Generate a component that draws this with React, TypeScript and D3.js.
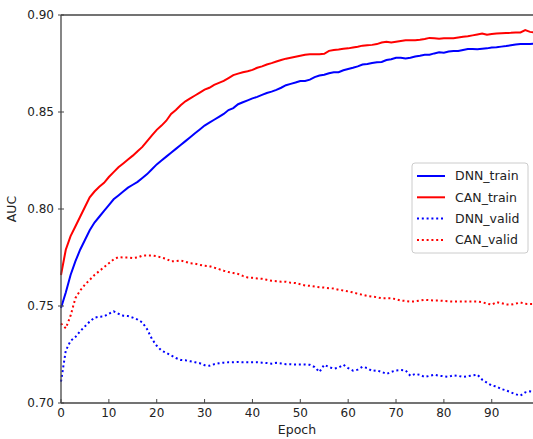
import React from "react";
import * as d3 from "d3";

// AUC per epoch
const dnnTrain = [
  0.749, 0.757, 0.766, 0.773, 0.779, 0.784, 0.789, 0.793, 0.796, 0.799,
  0.802, 0.805, 0.807, 0.809, 0.811, 0.8125, 0.814, 0.816, 0.818, 0.8205,
  0.823, 0.825, 0.827, 0.829, 0.831, 0.833, 0.835, 0.837, 0.839, 0.841,
  0.843, 0.8445, 0.846, 0.8475, 0.849, 0.851, 0.852, 0.854, 0.855, 0.856,
  0.857, 0.8578, 0.8588, 0.8598, 0.8605, 0.8614, 0.8625, 0.8638, 0.8645, 0.8652,
  0.866, 0.866, 0.8667, 0.868, 0.8688, 0.8692, 0.87, 0.8705, 0.8705, 0.8715,
  0.8722, 0.8728, 0.8735, 0.8745, 0.8748, 0.8752, 0.8756, 0.8758, 0.8768, 0.8772,
  0.878, 0.878, 0.8776, 0.878, 0.8786, 0.879, 0.8795, 0.8795, 0.8802, 0.8808,
  0.8806, 0.8812, 0.8815, 0.8814, 0.882, 0.8825, 0.8825, 0.8824, 0.8826, 0.8828,
  0.8832, 0.8834, 0.8837, 0.884, 0.8844, 0.8848, 0.885, 0.8851, 0.8851, 0.8852,
];

const canTrain = [
  0.766, 0.779, 0.786, 0.791, 0.796, 0.801, 0.806, 0.809, 0.8115, 0.8135,
  0.8165, 0.819, 0.8215, 0.8235, 0.8255, 0.8275, 0.8298, 0.832, 0.835, 0.838,
  0.8408, 0.843, 0.8455, 0.849, 0.851, 0.8535, 0.8555, 0.857, 0.8585, 0.86,
  0.8615, 0.8625, 0.864, 0.865, 0.866, 0.8675, 0.869, 0.8698, 0.8705, 0.871,
  0.8717, 0.8728, 0.8735, 0.8745, 0.8752, 0.876, 0.8768, 0.8775, 0.878, 0.8785,
  0.879, 0.8795, 0.8798, 0.8798, 0.8798, 0.88, 0.8815, 0.882, 0.8822, 0.8826,
  0.8828, 0.8832, 0.8836, 0.8842, 0.8844, 0.8846, 0.885, 0.8858, 0.8862, 0.8858,
  0.8862, 0.8866, 0.887, 0.887, 0.887, 0.8872, 0.8876, 0.8882, 0.888, 0.8878,
  0.888, 0.888, 0.888, 0.8884, 0.8888, 0.889, 0.8895, 0.89, 0.8905, 0.8898,
  0.8902, 0.8905, 0.8906, 0.8907, 0.8908, 0.891, 0.891, 0.8922, 0.8913, 0.891,
];

const dnnValid = [
  0.711, 0.727, 0.732, 0.734, 0.737, 0.7395, 0.742, 0.744, 0.7445, 0.7446,
  0.746, 0.7472, 0.746, 0.745, 0.7448, 0.744, 0.743, 0.7415, 0.738, 0.733,
  0.7295, 0.727, 0.7258, 0.7245, 0.7232, 0.7222, 0.722, 0.7215, 0.721, 0.7205,
  0.7195, 0.7192, 0.72, 0.7205, 0.7208, 0.721, 0.721, 0.7211, 0.721, 0.721,
  0.721, 0.721, 0.7208, 0.7206, 0.7203, 0.7207, 0.7204, 0.72, 0.72, 0.7198,
  0.7198, 0.7198, 0.7197, 0.7185, 0.716, 0.7197, 0.7185, 0.7177, 0.7183, 0.7197,
  0.718, 0.7167, 0.7172, 0.7187, 0.718, 0.7165, 0.7168, 0.716, 0.715, 0.716,
  0.7168, 0.717, 0.7168, 0.714, 0.715, 0.7145, 0.7134, 0.714, 0.7146, 0.714,
  0.7138, 0.7135, 0.7143, 0.714, 0.7134, 0.7138, 0.7142, 0.7146, 0.712, 0.7105,
  0.709, 0.7085, 0.7072, 0.7065, 0.7055, 0.7045, 0.7038, 0.7055, 0.706, 0.705,
];

const canValid = [
  0.741, 0.7385, 0.745, 0.754, 0.758, 0.761, 0.7635, 0.766, 0.768, 0.77,
  0.772, 0.774, 0.7752, 0.775, 0.775, 0.7747, 0.775, 0.776, 0.776, 0.776,
  0.7757, 0.775, 0.7743, 0.773, 0.7732, 0.7735, 0.7728, 0.772, 0.7718, 0.7712,
  0.7707, 0.7705, 0.7698, 0.769, 0.7682, 0.7675, 0.767, 0.7665, 0.7655, 0.7647,
  0.7645, 0.7642, 0.764, 0.7635, 0.763, 0.7628, 0.7625, 0.7625, 0.762, 0.7618,
  0.7612, 0.7606, 0.7604, 0.76, 0.7597, 0.7595, 0.7592, 0.759, 0.7584, 0.758,
  0.7575, 0.757, 0.7563, 0.7558, 0.7552, 0.7549, 0.7545, 0.754, 0.754, 0.754,
  0.7535, 0.7528, 0.7526, 0.7523, 0.7524, 0.7528, 0.7532, 0.753, 0.7528, 0.7528,
  0.7526, 0.7524, 0.7523, 0.7523, 0.7523, 0.7523, 0.7523, 0.7523, 0.752, 0.7512,
  0.7507, 0.752, 0.7515, 0.7508, 0.7507, 0.7512, 0.7518, 0.7511, 0.751, 0.751,
];

const xTicks = [0, 10, 20, 30, 40, 50, 60, 70, 80, 90];
const yTicks = [0.7, 0.75, 0.8, 0.85, 0.9];

const series = [
  { name: "DNN_train", values: dnnTrain, color: "#0000ff", dotted: false },
  { name: "CAN_train", values: canTrain, color: "#ff0000", dotted: false },
  { name: "DNN_valid", values: dnnValid, color: "#0000ff", dotted: true },
  { name: "CAN_valid", values: canValid, color: "#ff0000", dotted: true },
];

export default function App() {
  const width = 533;
  const height = 439;
  const margin = { top: 15, left: 61, bottom: 403 };
  const font = "'DejaVu Sans', sans-serif";
  const axisColor = "#444";
  const textColor = "#222";

  const x = d3.scaleLinear().domain([0, 100]).range([margin.left, 539.6]);
  const y = d3.scaleLinear().domain([0.7, 0.9]).range([margin.bottom, margin.top]);

  const line = d3
    .line<number>()
    .x((d, i) => x(i))
    .y((d) => y(d));

  return (
    <svg
      width={width}
      height={height}
      style={{ position: "absolute", left: 0, top: 0, background: "#fff" }}
      fontFamily={font}
    >
      <g className="plot-area">
        {series.map((s) => (
          <path
            key={s.name}
            d={line(s.values) || ""}
            fill="none"
            stroke={s.color}
            strokeWidth={2}
            strokeDasharray={s.dotted ? "2,2.8" : undefined}
          />
        ))}
      </g>

      {/* spines */}
      <line x1={margin.left} x2={width} y1={margin.top} y2={margin.top} stroke={axisColor} strokeWidth={1.3} />
      <line x1={margin.left} x2={width} y1={margin.bottom} y2={margin.bottom} stroke={axisColor} strokeWidth={1.3} />
      <line x1={margin.left} x2={margin.left} y1={margin.top} y2={margin.bottom} stroke={axisColor} strokeWidth={1.3} />

      <g className="x-axis">
        {xTicks.map((t) => (
          <g key={t} transform={`translate(${x(t)},0)`}>
            <line y1={margin.bottom} y2={margin.bottom - 4} stroke={axisColor} strokeWidth={1} />
            <text y={margin.bottom + 14} textAnchor="middle" fontSize={12} fill={textColor}>
              {t}
            </text>
          </g>
        ))}
        <text x={297} y={434} textAnchor="middle" fontSize={12.5} fill={textColor}>
          Epoch
        </text>
      </g>

      <g className="y-axis">
        {yTicks.map((t) => (
          <g key={t} transform={`translate(0,${y(t)})`}>
            <line x1={margin.left - 3} x2={margin.left + 3} stroke={axisColor} strokeWidth={1} />
            <text x={54} dy="0.35em" textAnchor="end" fontSize={12} fill={textColor}>
              {d3.format(".2f")(t)}
            </text>
          </g>
        ))}
        <text
          transform={`translate(16,${(margin.top + margin.bottom) / 2}) rotate(-90)`}
          textAnchor="middle"
          fontSize={12.5}
          fill={textColor}
        >
          AUC
        </text>
      </g>

      <g className="legend" transform="translate(412,163)">
        <rect width={116} height={90} rx={3} fill="#fff" stroke="#ccc" strokeWidth={1} />
        {series.map((s, i) => (
          <g key={s.name} transform={`translate(0,${13 + i * 21.3})`}>
            <line
              x1={5}
              x2={33}
              stroke={s.color}
              strokeWidth={2}
              strokeDasharray={s.dotted ? "2,2.8" : undefined}
            />
            <text x={43} dy="0.35em" fontSize={12.5} fill={textColor}>
              {s.name}
            </text>
          </g>
        ))}
      </g>
    </svg>
  );
}
